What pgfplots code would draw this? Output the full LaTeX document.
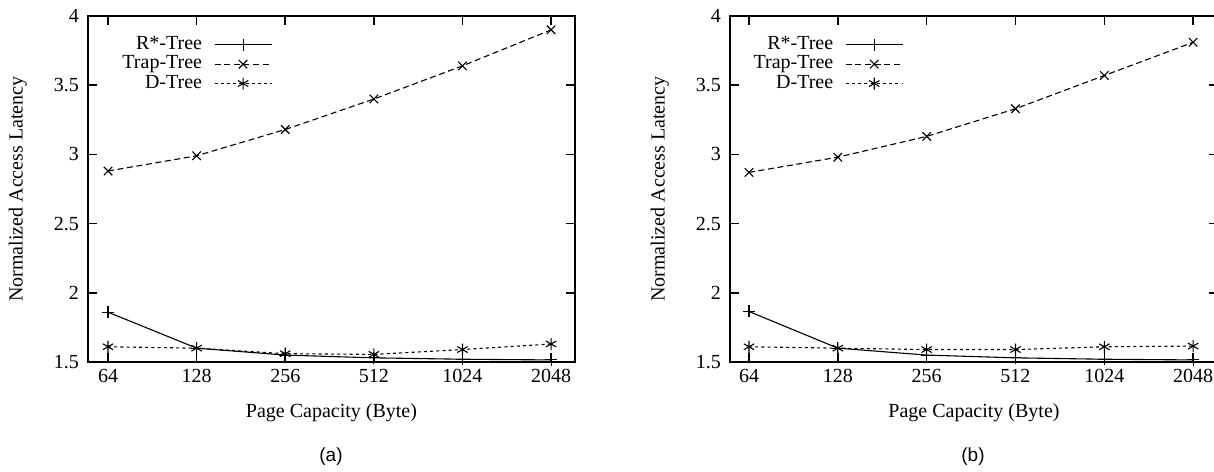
\documentclass[border=0pt]{standalone}
\usepackage{pgfplots}
\pgfplotsset{compat=1.18}
\usepackage{fontspec}
\setmainfont{Liberation Serif}
\newfontfamily\sansf{Liberation Sans}

\pgfplotstableread{
x rstar trap dtree
0 1.86 2.88 1.61
1 1.60 2.99 1.60
2 1.55 3.18 1.56
3 1.53 3.40 1.555
4 1.52 3.64 1.59
5 1.515 3.90 1.63
}\dataA
\pgfplotstableread{
x rstar trap dtree
0 1.865 2.87 1.61
1 1.60 2.98 1.60
2 1.55 3.13 1.59
3 1.53 3.33 1.59
4 1.52 3.57 1.61
5 1.515 3.81 1.615
}\dataB

\pgfplotsset{
  myax/.style={
    scale only axis,
    height=173pt,
    ymin=1.5, ymax=4,
    ytick={1.5,2,2.5,3,3.5,4},
    yticklabels={1.5,2,2.5,3,3.5,4},
    xtick={0,1,2,3,4,5},
    xticklabels={64,128,256,512,1024,2048},
    tick align=inside,
    major tick length=4.5pt,
    axis line style={line width=1pt},
    every tick/.style={black, line width=0.8pt},
    tick label style={font=\fontsize{10}{12}\selectfont},
    /pgf/number format/assume math mode=true,
    yticklabel style={xshift=-1pt},
    label style={font=\fontsize{10}{12}\selectfont},
    xlabel={Page Capacity (Byte)},
    ylabel={Normalized Access Latency},
    xlabel style={at={(axis description cs:0.5,-0.147)}, anchor=center},
    ylabel style={at={(axis description cs:-0.144,0.5)}, anchor=center},
    legend cell align=right,
    legend plot pos=right,
    legend style={draw=none, fill=none, inner sep=0pt, outer sep=0pt,
      anchor=north east, at={(rel axis cs:0.378,0.945)},
      font=\fontsize{10}{12}\selectfont,
      nodes={inner sep=0pt, text height=7.2pt, text depth=2.5pt},
      column sep=6pt, row sep=0pt},
    legend image code/.code={\draw[mark repeat=2,mark phase=2,##1] plot coordinates {(0cm,0cm) (0.5cm,0cm) (1cm,0cm)};},
    every axis plot/.append style={black, line width=0.55pt},
  },
  rs/.style={solid, mark=+, mark size=3pt, mark options={solid}},
  tp/.style={dash pattern=on 3pt off 1.8pt, mark=x, mark size=3pt, mark options={solid}},
  dt/.style={dash pattern=on 1.5pt off 1.6pt, mark=asterisk, mark size=3pt, mark options={solid}},
}

\begin{document}
\begin{tikzpicture}
\useasboundingbox (0pt,0pt) rectangle (607pt,-235.5pt);
\begin{axis}[myax, at={(44pt,-181pt)}, anchor=south west, width=243.5pt,
  xmin=-0.226, xmax=5.27]
\addplot[rs] table[x=x,y=rstar] {\dataA};
\addlegendentry{R*-Tree}
\addplot[tp] table[x=x,y=trap] {\dataA};
\addlegendentry{Trap-Tree}
\addplot[dt] table[x=x,y=dtree] {\dataA};
\addlegendentry{D-Tree}
\end{axis}
\begin{axis}[myax, at={(365pt,-181pt)}, anchor=south west, width=244pt,
  xmin=-0.214, xmax=5.28, legend style={at={(rel axis cs:0.355,0.945)}}]
\addplot[rs] table[x=x,y=rstar] {\dataB};
\addlegendentry{R*-Tree}
\addplot[tp] table[x=x,y=trap] {\dataB};
\addlegendentry{Trap-Tree}
\addplot[dt] table[x=x,y=dtree] {\dataB};
\addlegendentry{D-Tree}
\end{axis}
\node[font=\sansf\fontsize{9.5}{11}\selectfont] at (165.5pt,-228.5pt) {(a)};
\node[font=\sansf\fontsize{9.5}{11}\selectfont] at (486.5pt,-228.5pt) {(b)};
\end{tikzpicture}
\end{document}
